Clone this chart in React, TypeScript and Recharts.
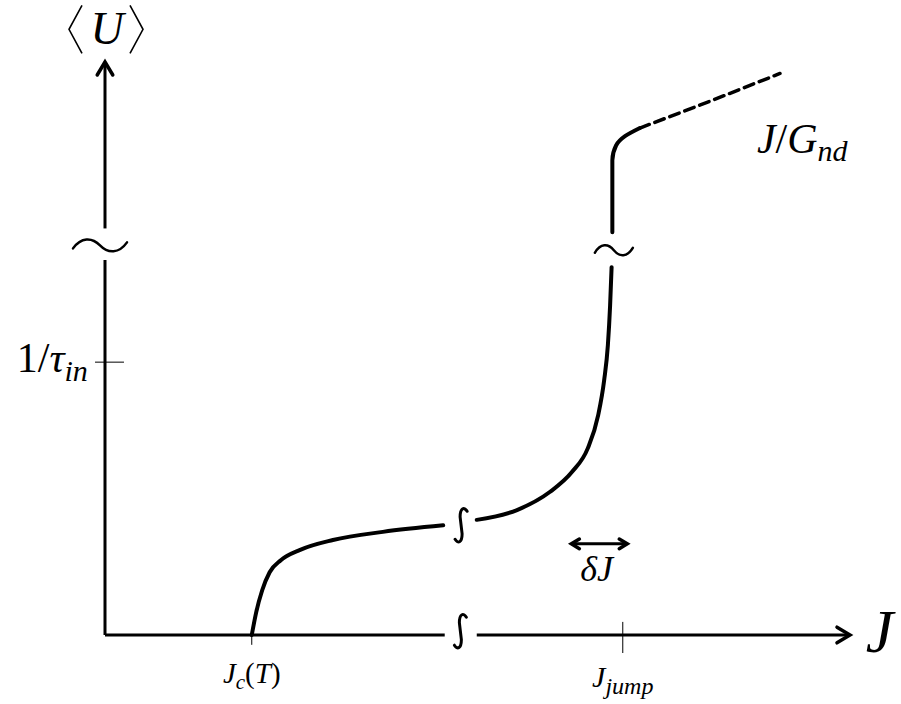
import React from 'react';
import { ComposedChart, Line, XAxis, YAxis, ReferenceLine, ReferenceDot } from 'recharts';

// ---- chart data (schematic units) ----
const X_DOMAIN: [number, number] = [0, 10];
const Y_DOMAIN: [number, number] = [0, 10.5];

const J_C = 1.97;
const J_JUMP = 6.95;
const INV_TAU_IN = 5.0;

const X_BREAK_LO = 4.56;
const X_BREAK_HI = 4.99;
const X_BREAK_MID = 4.77;
const Y_BREAK_LO = 6.87;
const Y_BREAK_HI = 7.45;
const Y_BREAK_MID = 7.14;

// curve segments
const riseToPlateau = [
  { x: 1.97, y: 0 },
  { x: 2.03, y: 0.42 },
  { x: 2.11, y: 0.82 },
  { x: 2.21, y: 1.15 },
  { x: 2.36, y: 1.37 },
  { x: 2.62, y: 1.56 },
  { x: 3.06, y: 1.74 },
  { x: 3.73, y: 1.89 },
  { x: 4.54, y: 2.01 },
];
const plateauToJump = [
  { x: 4.99, y: 2.11 },
  { x: 5.53, y: 2.29 },
  { x: 5.97, y: 2.62 },
  { x: 6.27, y: 2.99 },
  { x: 6.48, y: 3.42 },
  { x: 6.62, y: 4.03 },
  { x: 6.7, y: 4.67 },
  { x: 6.75, y: 5.31 },
  { x: 6.78, y: 6.04 },
  { x: 6.8, y: 6.74 },
];
const jumpTop = [
  { x: 6.81, y: 7.38 },
  { x: 6.81, y: 8.1 },
  { x: 6.81, y: 8.7 },
  { x: 6.86, y: 8.97 },
  { x: 6.98, y: 9.14 },
  { x: 7.18, y: 9.29 },
];
const ohmicBranch = [
  { x: 7.18, y: 9.29 },
  { x: 8.12, y: 9.78 },
  { x: 9.06, y: 10.29 },
];

// delta J arrow
const DELTA_J_FROM = 6.26;
const DELTA_J_TO = 7.01;
const DELTA_J_Y = 1.67;

const FONT = '"Liberation Serif", "DejaVu Serif", serif';

// ---- shapes ----
const chevron = (dir: 'right' | 'left' | 'up', size: number, sw: number) => (props: any) => {
  const { cx, cy } = props;
  let d = '';
  if (dir === 'right') d = `M${cx - size},${cy - size * 0.6} L${cx},${cy} L${cx - size},${cy + size * 0.6}`;
  if (dir === 'left') d = `M${cx + size},${cy - size * 0.6} L${cx},${cy} L${cx + size},${cy + size * 0.6}`;
  if (dir === 'up') d = `M${cx - size * 0.6},${cy + size} L${cx},${cy} L${cx + size * 0.6},${cy + size}`;
  return <path d={d} fill="none" stroke="#000" strokeWidth={sw} strokeLinecap="round" strokeLinejoin="miter" />;
};

const tilde = (hw: number, amp: number, sw: number) => (props: any) => {
  const { cx, cy } = props;
  const d = `M${cx - hw},${cy + amp * 0.5} C${cx - hw * 0.7},${cy - amp * 1.4} ${cx - hw * 0.3},${cy - amp * 1.4} ${cx},${cy} S${cx + hw * 0.7},${cy + amp * 1.4} ${cx + hw},${cy - amp * 0.5}`;
  return <path d={d} fill="none" stroke="#000" strokeWidth={sw} strokeLinecap="round" />;
};

const integral = (h: number, sw: number) => (props: any) => {
  const { cx, cy } = props;
  const d = `M${cx + 6},${cy - h + 3} C${cx + 3},${cy - h - 2} ${cx - 1},${cy - h} ${cx - 1},${cy - h * 0.5} L${cx + 1},${cy + h * 0.5} C${cx + 1},${cy + h} ${cx - 3},${cy + h + 2} ${cx - 6},${cy + h - 3}`;
  return <path d={d} fill="none" stroke="#000" strokeWidth={sw} strokeLinecap="round" />;
};

const textShape = (content: React.ReactNode, size: number, anchor: 'start' | 'middle' | 'end') => (props: any) => {
  const { cx, cy } = props;
  return (
    <text x={cx} y={cy} fontFamily={FONT} fontSize={size} textAnchor={anchor} fill="#000">
      {content}
    </text>
  );
};

// <U> label with tall thin angle brackets, centred on (cx, cy)
const angleULabel = (props: any) => {
  const { cx, cy } = props;
  return (
    <g>
      <path d={`M${cx - 23},${cy - 24} L${cx - 36},${cy} L${cx - 23},${cy + 24}`} fill="none" stroke="#000" strokeWidth={1.6} />
      <path d={`M${cx + 25},${cy - 24} L${cx + 38},${cy} L${cx + 25},${cy + 24}`} fill="none" stroke="#000" strokeWidth={1.6} />
      <text x={cx + 2} y={cy + 15} fontFamily={FONT} fontSize={46} fontStyle="italic" textAnchor="middle" fill="#000">U</text>
    </g>
  );
};

const I = ({ children, size, dy }: { children: React.ReactNode; size?: number; dy?: number }) => (
  <tspan fontStyle="italic" fontSize={size} dy={dy}>{children}</tspan>
);
const R = ({ children, size, dy }: { children: React.ReactNode; size?: number; dy?: number }) => (
  <tspan fontSize={size} dy={dy}>{children}</tspan>
);

// ---- labels ----
const labelTau = (
  <>
    <R>1/</R>
    <I>τ</I>
    <I size={30} dy={9}>in</I>
  </>
);
const labelJc = (
  <>
    <I>J</I>
    <I size={21} dy={6}>c</I>
    <R dy={-6}>(</R>
    <I>T</I>
    <R>)</R>
  </>
);
const labelJjump = (
  <>
    <I>J</I>
    <I size={24} dy={7}>jump</I>
  </>
);
const labelDeltaJ = <I>δJ</I>;
const labelJ = <I>J</I>;
const labelJG = (
  <>
    <I>J</I>
    <R>/</R>
    <I>G</I>
    <I size={30} dy={8}>nd</I>
  </>
);

const lineProps = {
  dataKey: 'y',
  stroke: '#000',
  dot: false,
  activeDot: false,
  isAnimationActive: false,
  strokeLinecap: 'round' as const,
  strokeLinejoin: 'round' as const,
};

export default function App() {
  return (
    <div style={{ position: 'absolute', left: 0, top: 0, width: 901, height: 704, background: '#fff' }}>
      <ComposedChart width={901} height={704} margin={{ top: 62, right: 51, bottom: 69, left: 105 }}>
        <XAxis type="number" dataKey="x" domain={X_DOMAIN} hide />
        <YAxis type="number" domain={Y_DOMAIN} hide />

        {/* axes with breaks */}
        <ReferenceLine segment={[{ x: 0, y: 0 }, { x: X_BREAK_LO, y: 0 }]} stroke="#000" strokeWidth={3} ifOverflow="visible" />
        <ReferenceLine segment={[{ x: X_BREAK_HI, y: 0 }, { x: X_DOMAIN[1], y: 0 }]} stroke="#000" strokeWidth={3} ifOverflow="visible" />
        <ReferenceLine segment={[{ x: 0, y: 0 }, { x: 0, y: Y_BREAK_LO }]} stroke="#000" strokeWidth={3} ifOverflow="visible" />
        <ReferenceLine segment={[{ x: 0, y: Y_BREAK_HI }, { x: 0, y: Y_DOMAIN[1] }]} stroke="#000" strokeWidth={3} ifOverflow="visible" />
        <ReferenceDot x={X_DOMAIN[1]} y={0} ifOverflow="visible" shape={chevron('right', 13, 3.5)} />
        <ReferenceDot x={0} y={Y_DOMAIN[1]} ifOverflow="visible" shape={chevron('up', 13, 3.5)} />
        <ReferenceDot x={-0.067} y={Y_BREAK_MID} ifOverflow="visible" shape={tilde(27, 6, 2.5)} />
        <ReferenceDot x={X_BREAK_MID} y={0.07} ifOverflow="visible" shape={integral(17, 3)} />

        {/* ticks */}
        <ReferenceLine segment={[{ x: -0.134, y: INV_TAU_IN }, { x: 0.255, y: INV_TAU_IN }]} stroke="#000" strokeWidth={1} ifOverflow="visible" />
        <ReferenceLine segment={[{ x: J_C, y: 0 }, { x: J_C, y: -0.18 }]} stroke="#000" strokeWidth={1} ifOverflow="visible" />
        <ReferenceLine segment={[{ x: J_JUMP, y: 0.24 }, { x: J_JUMP, y: -0.33 }]} stroke="#000" strokeWidth={1} ifOverflow="visible" />

        {/* curve */}
        <Line data={riseToPlateau} type="monotone" strokeWidth={4} {...lineProps} />
        <Line data={plateauToJump} type="monotone" strokeWidth={4} {...lineProps} />
        <Line data={jumpTop} type="monotoneY" strokeWidth={4} {...lineProps} />
        <Line data={ohmicBranch} type="linear" strokeWidth={3.5} strokeDasharray="10 6" {...lineProps} />
        <ReferenceDot x={4.78} y={2.01} ifOverflow="visible" shape={integral(17, 3)} />
        <ReferenceDot x={6.83} y={7.05} ifOverflow="visible" shape={tilde(19, 5, 2.5)} />

        {/* delta J */}
        <ReferenceLine segment={[{ x: DELTA_J_FROM, y: DELTA_J_Y }, { x: DELTA_J_TO, y: DELTA_J_Y }]} stroke="#000" strokeWidth={3} ifOverflow="visible" />
        <ReferenceDot x={DELTA_J_FROM} y={DELTA_J_Y} ifOverflow="visible" shape={chevron('left', 8, 3.5)} />
        <ReferenceDot x={DELTA_J_TO} y={DELTA_J_Y} ifOverflow="visible" shape={chevron('right', 8, 3.5)} />

        {/* labels */}
        <ReferenceDot x={0} y={11.1} ifOverflow="visible" shape={angleULabel} />
        <ReferenceDot x={-0.23} y={INV_TAU_IN - 0.18} ifOverflow="visible" shape={textShape(labelTau, 42, 'end')} />
        <ReferenceDot x={J_C} y={-0.88} ifOverflow="visible" shape={textShape(labelJc, 29, 'middle')} />
        <ReferenceDot x={J_JUMP} y={-0.95} ifOverflow="visible" shape={textShape(labelJjump, 30, 'middle')} />
        <ReferenceDot x={6.6} y={0.99} ifOverflow="visible" shape={textShape(labelDeltaJ, 36, 'middle')} />
        <ReferenceDot x={10.21} y={-0.31} ifOverflow="visible" shape={textShape(labelJ, 62, 'start')} />
        <ReferenceDot x={8.75} y={8.83} ifOverflow="visible" shape={textShape(labelJG, 42, 'start')} />
      </ComposedChart>
    </div>
  );
}
